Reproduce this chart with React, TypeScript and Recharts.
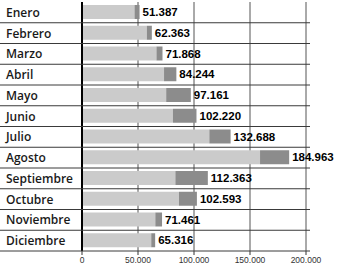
import { BarChart, Bar, XAxis, YAxis, CartesianGrid, LabelList } from "recharts";

const months = [
  "Enero", "Febrero", "Marzo", "Abril", "Mayo", "Junio",
  "Julio", "Agosto", "Septiembre", "Octubre", "Noviembre", "Diciembre",
];
const totals = [51387, 62363, 71868, 84244, 97161, 102220, 132688, 184963, 112363, 102593, 71461, 65316];
// darker end segment of each bar (estimated)
const tips = [4500, 4500, 5400, 11000, 22000, 21000, 19000, 26000, 29000, 16000, 6000, 3500];
const xTicks = [0, 50000, 100000, 150000, 200000];

const data = months.map((m, i) => ({
  month: m,
  base: totals[i] - tips[i],
  tip: tips[i],
  total: totals[i],
}));

const W = 337;
const H = 269;
const TOP = 2;
const XH = 18;
const rowH = (H - TOP - XH) / months.length;

const fmt = (v: number) => String(v).replace(/\B(?=(\d{3})+(?!\d))/g, ".");

const MonthTick = ({ y, payload }: any) => (
  <g>
    <line x1={0} x2={310} y1={y + rowH / 2} y2={y + rowH / 2} stroke="#3a3a3a" strokeWidth={1} />
    <text
      x={6}
      y={y}
      dy={4.5}
      textAnchor="start"
      fill="#1a1a1a"
      style={{ fontFamily: "'Open Sans', sans-serif", fontSize: 12, fontWeight: 600 }}
    >
      {payload.value}
    </text>
  </g>
);

export default function App() {
  return (
    <div style={{ position: "absolute", left: 0, top: 0, background: "#fff" }}>
      <BarChart
        width={W}
        height={H}
        data={data}
        layout="vertical"
        margin={{ top: TOP, right: 31, bottom: 0, left: 0 }}
        barSize={14}
      >
        <CartesianGrid horizontal={false} stroke="#555" />
        <XAxis
          type="number"
          domain={[0, 200000]}
          ticks={xTicks}
          tickFormatter={fmt}
          height={XH}
          axisLine={false}
          tickLine={{ stroke: "#333" }}
          tickSize={4}
          tick={{ fill: "#333", fontSize: 8.5, fontFamily: "'Liberation Sans', sans-serif" }}
          interval={0}
        />
        <YAxis
          type="category"
          dataKey="month"
          width={82}
          tick={<MonthTick />}
          tickLine={false}
          axisLine={{ stroke: "#000", strokeWidth: 2 }}
          interval={0}
        />
        <Bar dataKey="base" stackId="a" fill="#cbcbcb" isAnimationActive={false} />
        <Bar dataKey="tip" stackId="a" fill="#8c8c8c" isAnimationActive={false}>
          <LabelList
            dataKey="total"
            position="right"
            offset={3}
            formatter={(v: any) => fmt(v)}
            style={{ fill: "#000", fontSize: 11.5, fontWeight: 700, fontFamily: "'Liberation Sans', sans-serif" }}
          />
        </Bar>
      </BarChart>
    </div>
  );
}
